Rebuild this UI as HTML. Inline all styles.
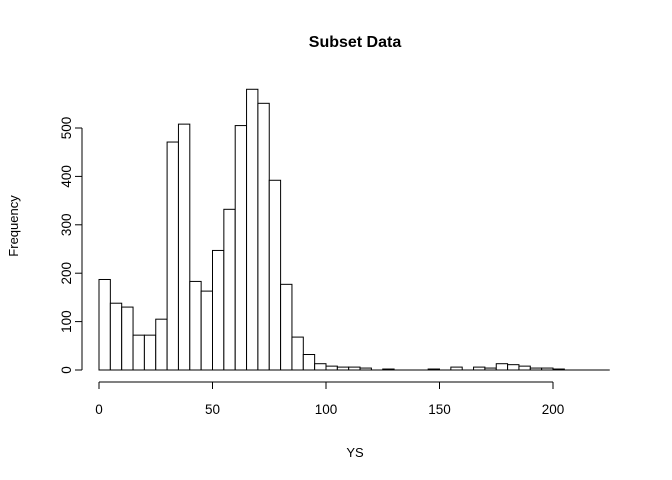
<!DOCTYPE html>
<html><head><meta charset="utf-8"><style>body{margin:0;background:#fff}svg{display:block;font-family:"Liberation Sans",Arial,sans-serif}</style></head>
<body>
<svg id="chart" width="672" height="480" xmlns="http://www.w3.org/2000/svg">
<text x="355" y="47" text-anchor="middle" font-weight="bold" font-size="16">Subset Data</text>
<text x="355" y="457" text-anchor="middle" font-size="13">YS</text>
<text transform="translate(18,226) rotate(-90)" text-anchor="middle" font-size="13">Frequency</text>
<g id="bars"></g>
<g id="axes"></g>
</svg>
<script>
const binWidth = 5;
const binStart = 0;
const counts = [187,138,130,72,72,105,471,508,183,163,247,332,505,580,551,392,177,68,32,13,8,6,6,4,0,2,0,0,0,2,0,6,0,6,4,13,11,8,4,4,2,0,0,0,0];
const xTicks = [0,50,100,150,200];
const yTicks = [0,100,200,300,400,500];
const NS='http://www.w3.org/2000/svg';
const x = v => 99 + (v - 0) * (553 - 99) / 200;
const y = v => 370 - v * (370 - 128) / 500;
const bars=document.getElementById('bars'), axes=document.getElementById('axes');
function mk(tag, attrs, parent){const e=document.createElementNS(NS,tag);for(const k in attrs)e.setAttribute(k,attrs[k]);parent.appendChild(e);return e;}
const bl=mk('line',{x1:x(binStart),x2:x(binStart+counts.length*binWidth),y1:y(0),y2:y(0),stroke:'#000'},bars);


counts.forEach((c,i)=>{
  if(c<=0) return;
  const x0=x(binStart+i*binWidth), x1=x(binStart+(i+1)*binWidth);
  const r=mk('rect',{x:x0,y:y(c),width:x1-x0,height:y(0)-y(c),fill:'#fff',stroke:'#000','stroke-width':1},bars);
  
  
});
mk('line',{x1:x(xTicks[0]),x2:x(xTicks[xTicks.length-1]),y1:382,y2:382,stroke:'#000'},axes);
xTicks.forEach(t=>{
  mk('line',{x1:x(t),x2:x(t),y1:382,y2:389,stroke:'#000'},axes);
  const tx=mk('text',{x:x(t),y:414,'text-anchor':'middle','font-size':13.5},axes);tx.textContent=t;
  
  
});
mk('line',{x1:82,x2:82,y1:y(yTicks[0]),y2:y(yTicks[yTicks.length-1]),stroke:'#000'},axes);
yTicks.forEach(t=>{
  mk('line',{x1:75,x2:82,y1:y(t),y2:y(t),stroke:'#000'},axes);
  const tx=mk('text',{transform:`translate(71,${y(t)}) rotate(-90)`,'text-anchor':'middle','font-size':13.5},axes);tx.textContent=t;
  
  
});
</script>
</body></html>
